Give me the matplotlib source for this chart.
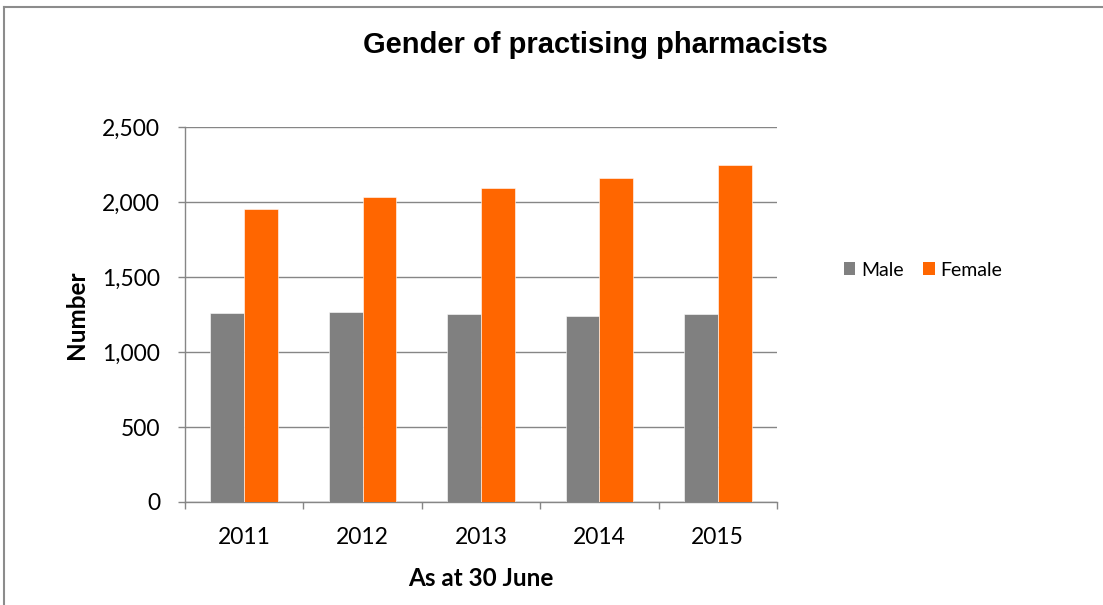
import matplotlib
matplotlib.use("Agg")
import matplotlib.pyplot as plt
import numpy as np
from matplotlib.lines import Line2D
from matplotlib.patches import Patch

years = ["2011", "2012", "2013", "2014", "2015"]
male = [1263, 1267, 1251, 1238, 1251]
female = [1953, 2031, 2096, 2163, 2245]
yticks = [0, 500, 1000, 1500, 2000, 2500]
ytick_labels = ["0", "500", "1,000", "1,500", "2,000", "2,500"]

GRAY = "#808080"
ORANGE = "#FF6600"
AXCOL = "#868686"
TICKFONT = ["Lato", "DejaVu Sans"]
TITLEFONT = ["Liberation Sans", "DejaVu Sans"]

fig = plt.figure(figsize=(11.03, 6.05), dpi=100)
ax = fig.add_axes([185/1103, 1-502/605, 592/1103, 375/605])

x = np.arange(len(years))
w = 1/3.5
ax.bar(x - w/2, male, width=w, color=GRAY, edgecolor="white", linewidth=0.4, zorder=3, label="Male")
ax.bar(x + w/2, female, width=w, color=ORANGE, edgecolor="white", linewidth=0.4, zorder=3, label="Female")

ax.set_xlim(-0.5, len(years) - 0.5)
ax.set_ylim(0, 2500)
ax.set_yticks(yticks)
ax.set_yticklabels(ytick_labels, fontfamily=TICKFONT, fontsize=16.5)
ax.set_xticks(x)
ax.set_xticklabels(years, fontfamily=TICKFONT, fontsize=16.5)
ax.tick_params(axis="x", length=0, pad=18)
ax.set_xticks(np.arange(-0.5, len(years)), minor=True)
ax.tick_params(axis="x", which="minor", length=5, color=AXCOL, width=1)
ax.tick_params(axis="y", length=5, color=AXCOL, width=1, pad=13)
ax.grid(axis="y", color=AXCOL, linewidth=1, zorder=0)
for s in ["top", "right"]:
    ax.spines[s].set_visible(False)
for s in ["left", "bottom"]:
    ax.spines[s].set_color(AXCOL)
    ax.spines[s].set_linewidth(1)

ax.set_ylabel("Number", fontfamily=TICKFONT, fontsize=17.5, fontweight="bold", labelpad=10)
ax.set_xlabel("As at 30 June", fontfamily=TICKFONT, fontsize=17.5, fontweight="bold", labelpad=14)

fig.text(595/1103, 1-45/605, "Gender of practising pharmacists", ha="center", va="center",
         fontfamily=TITLEFONT, fontsize=21, fontweight="bold")

handles = [Patch(facecolor=GRAY, edgecolor="none"), Patch(facecolor=ORANGE, edgecolor="none")]
fig.legend(handles, ["Male", "Female"], loc="center left", bbox_to_anchor=(826/1103, 1-270/605),
           ncol=2, frameon=False, prop={"family": TICKFONT, "size": 14},
           handlelength=0.6, handleheight=0.6, handletextpad=0.3, columnspacing=1.0)

fig.add_artist(Line2D([4/1103, 1.0], [1-7/605, 1-7/605], transform=fig.transFigure, color="#8C8C8C", linewidth=1.5))
fig.add_artist(Line2D([4/1103, 4/1103], [1-7/605, 0.0], transform=fig.transFigure, color="#8C8C8C", linewidth=1.5))

fig.savefig("out.png", dpi=100)
